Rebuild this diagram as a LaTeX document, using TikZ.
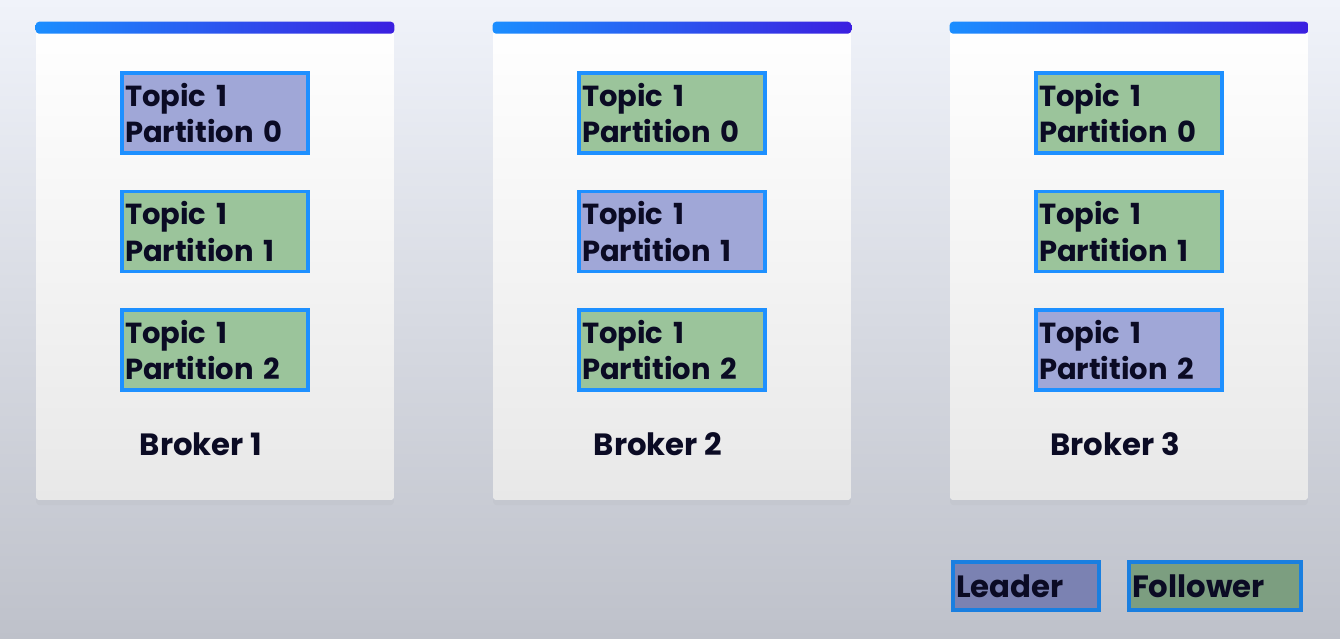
\documentclass[tikz,border=0pt]{standalone}
\usepackage{fontspec}
\setmainfont{Poppins}
\usetikzlibrary{shadows}

\begin{document}
\begin{tikzpicture}[x=0.02cm, y=-0.02cm, every node/.style={font=\fontsize{17.5}{21}\selectfont\bfseries, text=ink}]
  \definecolor{ink}{HTML}{0B0B24} \definecolor{bgtop}{HTML}{F0F3FA} \definecolor{bgbot}{HTML}{BEC1CA}
  \definecolor{barleft}{HTML}{1B8EFF} \definecolor{barright}{HTML}{3B1FE0}
  \definecolor{partline}{HTML}{1E90FF} \definecolor{legline}{HTML}{1A7FE0}
  \definecolor{lead}{HTML}{A0A7D7} \definecolor{follow}{HTML}{9BC49B}
  \definecolor{leaddk}{HTML}{7B82B2} \definecolor{followdk}{HTML}{7C9E80}
  \tikzstyle{broker}=[fill=white, top color=white, bottom color=black!9, rounded corners=2pt,
    minimum width=7.16cm, minimum height=9.56cm, drop shadow={opacity=0.06, shadow xshift=0pt, shadow yshift=-3pt}]
  \tikzstyle{part}=[draw=partline, line width=2.2pt, minimum width=3.72cm, minimum height=1.6cm,
    text width=3.6cm, inner xsep=0.06cm, align=left, font=\fontsize{16.5}{21}\selectfont\bfseries]
  \shade[top color=bgtop, bottom color=bgbot] (0,0) rectangle (1340,639);
  \useasboundingbox (0,0) rectangle (1340,639);
  \foreach \b in {1,2,3} {
    \node[broker] (broker\b) at ({215+457*(\b-1)}, 261) {};
    \shade[left color=barleft, right color=barright, rounded corners=2pt]
      (broker\b.north west) rectangle ([yshift=-0.24cm]broker\b.north east);
    \foreach \p in {0,1,2} {
      \ifnum\p=\numexpr\b-1\relax \def\kind{lead}\else \def\kind{follow}\fi
      \node[part, fill=\kind] (part\b-\p) at ({215+457*(\b-1)}, {113+118.5*\p}) {Topic 1\\Partition \p};
    }
    \node (label\b) at ({201+457*(\b-1)}, 444) {Broker \b};
  }
          %legend
  \node[part, draw=legline, fill=leaddk, minimum width=2.92cm, minimum height=0.96cm, text width=2.8cm,
    font=\fontsize{17.5}{21}\selectfont\bfseries] (leader) at (1026, 586) {Leader};
  \node[part, draw=legline, fill=followdk, minimum width=3.44cm, minimum height=0.96cm, text width=3.32cm,
    font=\fontsize{17.5}{21}\selectfont\bfseries] (follower) at (1215, 586) {Follower};
\end{tikzpicture}
\end{document}
